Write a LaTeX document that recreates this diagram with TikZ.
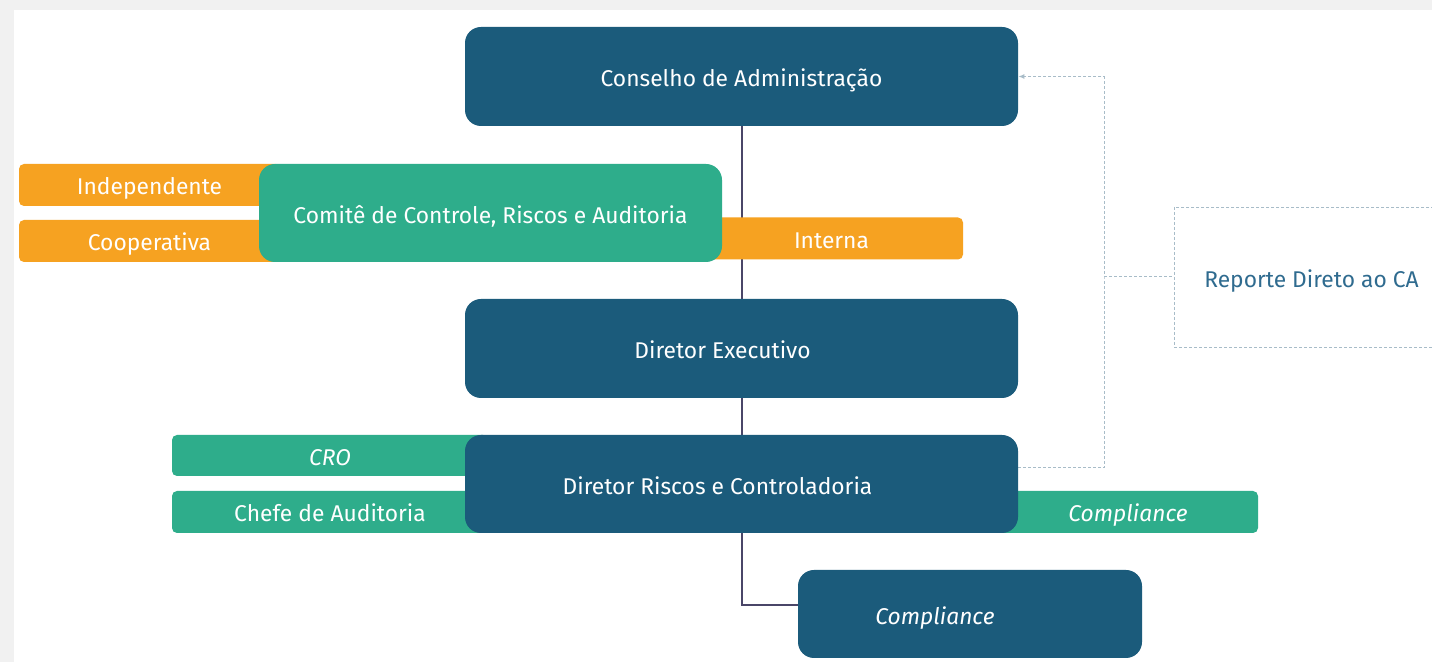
\documentclass[tikz,border=0pt]{standalone}
\usepackage{fontspec}
\setmainfont{Fira Sans}
\usetikzlibrary{arrows.meta,backgrounds}
\definecolor{boardblue}{HTML}{1B5B7B}
\definecolor{teal}{HTML}{2EAD8B}
\definecolor{amber}{HTML}{F6A221}
\definecolor{linkline}{HTML}{4A4668}
\definecolor{dotgray}{HTML}{A8BCC8}
\definecolor{reportblue}{HTML}{2F6B8F}
\definecolor{panelgray}{HTML}{F1F1F1}
\tikzset{
  board/.style={
    rectangle,
    rounded corners=8pt,
    fill=boardblue,
    text=white,
    align=center,
    minimum width=276.5pt,
    minimum height=49.5pt,
    inner sep=0pt,
    text height=10.5pt,
    text depth=0pt,
    font=\fontsize{11.4}{13}\selectfont
  },
  boardtext/.style={text=white, inner sep=0pt, text height=10.5pt, text depth=0pt, font=\fontsize{11.4}{13}\selectfont},
  sidebar/.style={
    rectangle,
    rounded corners=2.5pt,
    text=white,
    minimum height=21pt,
    inner sep=0pt,
    text height=10pt,
    text depth=0pt,
    font=\fontsize{11.4}{13}\selectfont
  },
  reportbox/.style={
    rectangle,
    draw=dotgray,
    line width=0.4pt,
    dash pattern=on 1.5pt off 1pt,
    text=reportblue,
    minimum width=137.5pt,
    minimum height=70pt,
    inner sep=0pt,
    text height=10.5pt,
    text depth=0pt,
    font=\fontsize{11.4}{13}\selectfont
  },
  link/.style={draw=linkline, line width=1pt},
  dotline/.style={draw=dotgray, line width=0.5pt, dash pattern=on 1.5pt off 1pt}
}
\begin{document}
\begin{tikzpicture}[x=0.5pt,y=-0.5pt]
  \useasboundingbox (0,0) rectangle (1432,662);

  % side tags first, so the main boxes sit on top
  \node[sidebar, fill=amber, minimum width=130.5pt] (indep) at (149.5,185) {Independente};
  \node[sidebar, fill=amber, minimum width=130.5pt] (coop) at (149.5,241) {Cooperativa};
  \node[sidebar, fill=amber, minimum width=131.5pt] (interna) at (831.5,238.5) {Interna};
  \node[sidebar, fill=teal, minimum width=158pt, minimum height=20.5pt] (cro) at (330,455.5) {\textit{CRO}};
  \node[sidebar, fill=teal, minimum width=158pt] (chefe) at (330,512) {Chefe de Auditoria};
  \node[sidebar, fill=teal, minimum width=130pt] (compside) at (1128,512) {\textit{Compliance}};

  % main chain
  \node[board] (conselho) at (741.5,76.5) {Conselho de Administração};
  \node[board, fill=teal, minimum width=231.5pt, minimum height=49pt] (comite) at (490.5,213) {Comitê de Controle, Riscos e Auditoria};
  \node[board, label={[boardtext, xshift=-9.5pt]center:Diretor Executivo}] (exec) at (741.5,348.5) {};
  \node[board, minimum height=49pt, label={[boardtext, xshift=-12pt]center:Diretor Riscos e Controladoria}] (riscos) at (741.5,484) {};
  \node[board, minimum width=172pt, minimum height=44pt, label={[boardtext, xshift=-17.5pt]center:\textit{Compliance}}] (comp) at (970,614) {};

  \node[reportbox] (reporte) at (1311.5,277) {Reporte Direto ao CA};
  \coordinate (rbus) at (1104,277);

  \begin{scope}[on background layer]
    \fill[panelgray] (0,0) rectangle (1432,662);
    \fill[white] (14,10) rectangle (1432,662);
    \draw[link] (conselho) -- (exec);
    \draw[link] (exec) -- (riscos);
    \draw[link] (riscos.south) |- ([yshift=4.5pt]comp.west);
    \draw[dotline, -{Latex[length=3pt,width=2.5pt]}] ([yshift=8pt]riscos.east) -| (rbus) |- (conselho.east);
    \draw[dotline] (rbus) -- (reporte.west);
  \end{scope}
\end{tikzpicture}
\end{document}
